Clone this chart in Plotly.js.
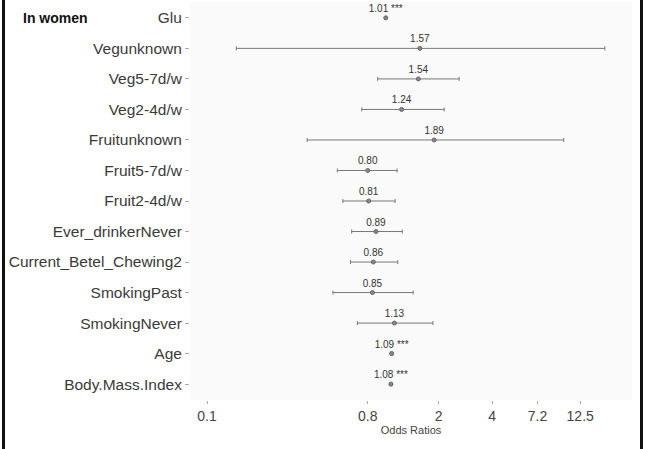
<!DOCTYPE html>
<html>
<head>
<meta charset="utf-8">
<script src="https://cdn.plot.ly/plotly-3.0.1.min.js"></script>
<style>
  html, body { margin: 0; padding: 0; background: #fff; }
  #wrap { position: relative; width: 647px; height: 449px; overflow: hidden; }
  #chart { width: 647px; height: 449px; }
  .edge { position: absolute; top: 0; width: 3px; height: 449px; background: #111; }
</style>
</head>
<body>
<div id="wrap">
  <div id="chart"></div>
  <div class="edge" style="left:2px"></div>
  <div class="edge" style="left:640px"></div>
</div>
<script>
const terms = ["Glu", "Vegunknown", "Veg5-7d/w", "Veg2-4d/w", "Fruitunknown", "Fruit5-7d/w", "Fruit2-4d/w",
  "Ever_drinkerNever", "Current_Betel_Chewing2", "SmokingPast", "SmokingNever", "Age", "Body.Mass.Index"];
const oddsRatio = [1.01, 1.57, 1.54, 1.24, 1.89, 0.80, 0.81, 0.89, 0.86, 0.85, 1.13, 1.09, 1.08];
const ciLow  = [1.00, 0.146, 0.91, 0.74, 0.365, 0.54, 0.58, 0.65, 0.64, 0.51, 0.70, 1.075, 1.065];
const ciHigh = [1.02, 17.2, 2.61, 2.15, 10.1, 1.17, 1.14, 1.25, 1.18, 1.44, 1.86, 1.105, 1.095];
const stars  = ["***", "", "", "", "", "", "", "", "", "", "", "***", "***"];
const xTicks = [0.1, 0.8, 2, 4, 7.2, 12.5];
const xTickText = ["0.1", "0.8", "2", "4", "7.2", "12.5"];

const rows = terms.map((t, i) => i);
const labels = oddsRatio.map((v, i) => v.toFixed(2) + (stars[i] ? " " + stars[i] : ""));

const trace = {
  type: "scatter",
  mode: "markers+text",
  x: oddsRatio,
  y: rows,
  text: labels,
  textposition: "top center",
  textfont: { family: "Liberation Sans, Arial, sans-serif", size: 10, color: "#333" },
  marker: { symbol: "circle", size: 4, color: "#888", line: { color: "#666", width: 1 } },
  error_x: {
    type: "data",
    symmetric: false,
    array: oddsRatio.map((v, i) => ciHigh[i] - v),
    arrayminus: oddsRatio.map((v, i) => v - ciLow[i]),
    color: "#777",
    thickness: 1,
    width: 2
  },
  cliponaxis: false,
  hoverinfo: "skip",
  showlegend: false
};

const layout = {
  width: 647,
  height: 449,
  margin: { l: 190, r: 15, t: 2, b: 49 },
  paper_bgcolor: "#ffffff",
  plot_bgcolor: "#fafafa",
  font: { family: "Liberation Sans, Arial, sans-serif", color: "#333" },
  title: {
    text: "<b>In women</b>",
    font: { family: "Liberation Sans, Arial, sans-serif", size: 14, color: "#111" },
    x: 23 / 647, xanchor: "left", xref: "container",
    y: 1 - 18 / 449, yanchor: "middle", yref: "container"
  },
  xaxis: {
    type: "log",
    range: [-1.0955, 1.388],
    tickvals: xTicks,
    ticktext: xTickText,
    ticks: "outside",
    ticklen: 3,
    tickcolor: "#aaa",
    tickfont: { size: 14, color: "#444" },
    showgrid: false,
    zeroline: false,
    showline: false,
    title: { text: "Odds Ratios", font: { size: 11, color: "#444" }, standoff: 0 }
  },
  yaxis: {
    range: [12.52, -0.52],
    tickvals: rows,
    ticktext: terms,
    ticks: "outside",
    ticklen: 4,
    tickcolor: "#aaa",
    tickfont: { size: 15.5, color: "#3a3a3a" },
    showgrid: false,
    zeroline: false,
    showline: false
  }
};

Plotly.newPlot("chart", [trace], layout, { displayModeBar: false, staticPlot: true });
</script>
</body>
</html>
